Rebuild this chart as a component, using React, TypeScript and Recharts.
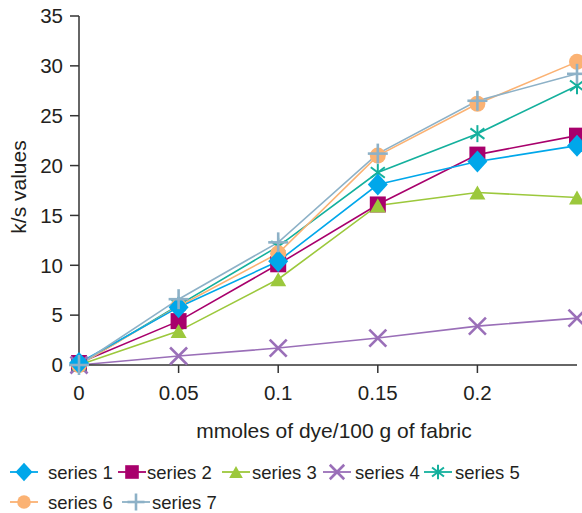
import React from 'react';
import { LineChart, Line, XAxis, YAxis } from 'recharts';

const xValues = [0, 0.05, 0.1, 0.15, 0.2, 0.25];
const xTicks = [0, 0.05, 0.1, 0.15, 0.2];
const yTicks = [0, 5, 10, 15, 20, 25, 30, 35];
const series1 = [0.2, 5.8, 10.4, 18.1, 20.4, 22.0];
const series2 = [0.2, 4.4, 10.1, 16.1, 21.1, 23.0];
const series3 = [0, 3.4, 8.6, 16.0, 17.3, 16.8];
const series4 = [0, 0.9, 1.7, 2.7, 3.9, 4.7];
const series5 = [0, 6.0, 11.9, 19.3, 23.2, 28.0];
const series6 = [0, 5.9, 11.2, 21.0, 26.2, 30.4];
const series7 = [0, 6.6, 12.3, 21.2, 26.5, 29.2];
const seriesNames = ['series 1', 'series 2', 'series 3', 'series 4', 'series 5', 'series 6', 'series 7'];
// drawing order of the series (last drawn on top)
const drawOrder = [1, 2, 3, 4, 5, 0, 6];

type Shape = 'diamond' | 'square' | 'triangle' | 'x' | 'asterisk' | 'circle' | 'plus';

const seriesDefs: { key: string; name: string; values: number[]; color: string; shape: Shape }[] = [
  { key: 's1', name: seriesNames[0], values: series1, color: '#00A7EA', shape: 'diamond' },
  { key: 's2', name: seriesNames[1], values: series2, color: '#A8006C', shape: 'square' },
  { key: 's3', name: seriesNames[2], values: series3, color: '#9CC83C', shape: 'triangle' },
  { key: 's4', name: seriesNames[3], values: series4, color: '#9A6FB8', shape: 'x' },
  { key: 's5', name: seriesNames[4], values: series5, color: '#14B09D', shape: 'asterisk' },
  { key: 's6', name: seriesNames[5], values: series6, color: '#FBB273', shape: 'circle' },
  { key: 's7', name: seriesNames[6], values: series7, color: '#8DB1C7', shape: 'plus' },
];

const data = xValues.map((x, i) => {
  const row: Record<string, number> = { x };
  seriesDefs.forEach((s) => {
    row[s.key] = s.values[i];
  });
  return row;
});

const TEXT = '#231F20';
const FONT = 'Liberation Sans, Arial, sans-serif';

function Marker({ cx, cy, shape, color, k = 1 }: { cx: number; cy: number; shape: Shape; color: string; k?: number }) {
  switch (shape) {
    case 'diamond': {
      const w = 10 * k, h = 11 * k;
      return <polygon points={`${cx},${cy - h} ${cx + w},${cy} ${cx},${cy + h} ${cx - w},${cy}`} fill={color} />;
    }
    case 'square': {
      const s = 8 * k;
      return <rect x={cx - s} y={cy - s} width={2 * s} height={2 * s} fill={color} />;
    }
    case 'triangle': {
      const w = 8 * k, h = 7 * k;
      return <polygon points={`${cx},${cy - h} ${cx + w},${cy + h} ${cx - w},${cy + h}`} fill={color} />;
    }
    case 'x': {
      const s = 8.5 * k;
      return (
        <g stroke={color} strokeWidth={2.6}>
          <line x1={cx - s} y1={cy - s} x2={cx + s} y2={cy + s} />
          <line x1={cx - s} y1={cy + s} x2={cx + s} y2={cy - s} />
        </g>
      );
    }
    case 'asterisk': {
      const s = 8.5 * k, d = 7 * k;
      return (
        <g stroke={color} strokeWidth={2}>
          <line x1={cx} y1={cy - s} x2={cx} y2={cy + s} />
          <line x1={cx - d} y1={cy - d * 0.75} x2={cx + d} y2={cy + d * 0.75} />
          <line x1={cx - d} y1={cy + d * 0.75} x2={cx + d} y2={cy - d * 0.75} />
        </g>
      );
    }
    case 'circle':
      return <circle cx={cx} cy={cy} r={8 * k} fill={color} />;
    case 'plus': {
      const s = 10 * k;
      return (
        <g stroke={color} strokeWidth={2.6}>
          <line x1={cx} y1={cy - s} x2={cx} y2={cy + s} />
          <line x1={cx - s} y1={cy} x2={cx + s} y2={cy} />
        </g>
      );
    }
  }
  return null;
}

const legendRows = [
  [
    { i: 0, icon: 10, text: 48 },
    { i: 1, icon: 118, text: 147 },
    { i: 2, icon: 222, text: 252 },
    { i: 3, icon: 323, text: 355 },
    { i: 4, icon: 424, text: 455 },
  ],
  [
    { i: 5, icon: 10, text: 48 },
    { i: 6, icon: 122, text: 152 },
  ],
];
const legendRowY = [472, 502];

export default function App() {
  return (
    <div style={{ position: 'absolute', left: 0, top: 0, width: 582, height: 513, background: '#fff' }}>
      <LineChart width={582} height={513} data={data} margin={{ top: 16, right: 5, left: 0, bottom: 108 }}>
        <XAxis
          dataKey="x"
          type="number"
          domain={[0, 0.25]}
          ticks={xTicks}
          tickSize={8}
          tickMargin={12}
          height={40}
          stroke="#333"
          strokeWidth={1.5}
          tick={{ fill: TEXT, fontSize: 20.5, fontFamily: FONT }}
          tickLine={{ stroke: '#333', strokeWidth: 1.5 }}
        />
        <YAxis
          type="number"
          domain={[0, 35]}
          ticks={yTicks}
          width={79}
          tickSize={9}
          tickMargin={7}
          stroke="#333"
          strokeWidth={1.5}
          tick={{ fill: TEXT, fontSize: 20.5, fontFamily: FONT }}
          tickLine={{ stroke: '#333', strokeWidth: 1.5 }}
        />
        {drawOrder.map((idx) => {
          const s = seriesDefs[idx];
          return (
            <Line
              key={s.key}
              dataKey={s.key}
              name={s.name}
              stroke={s.color}
              strokeWidth={1.6}
              isAnimationActive={false}
              dot={(p: any) => <Marker key={`${s.key}-${p.index}`} cx={p.cx} cy={p.cy} shape={s.shape} color={s.color} />}
              activeDot={false}
            />
          );
        })}
      </LineChart>
      <svg width={582} height={513} style={{ position: 'absolute', left: 0, top: 0, pointerEvents: 'none' }}>
        <text
          x={18}
          y={187}
          transform="rotate(-90 18 187)"
          textAnchor="middle"
          dominantBaseline="central"
          fill={TEXT}
          fontSize={21}
          fontFamily={FONT}
        >
          k/s values
        </text>
        <text x={334} y={438} textAnchor="middle" fill={TEXT} fontSize={21} fontFamily={FONT}>
          mmoles of dye/100 g of fabric
        </text>
        {legendRows.map((row, r) =>
          row.map((it) => {
            const s = seriesDefs[it.i];
            const cy = legendRowY[r];
            return (
              <g key={s.key}>
                <line x1={it.icon} y1={cy} x2={it.icon + 28} y2={cy} stroke={s.color} strokeWidth={1.8} />
                <Marker cx={it.icon + 14} cy={cy} shape={s.shape} color={s.color} k={0.85} />
                <text x={it.text} y={cy + 7} fill={TEXT} fontSize={18.5} fontFamily={FONT}>
                  {s.name}
                </text>
              </g>
            );
          })
        )}
      </svg>
    </div>
  );
}
